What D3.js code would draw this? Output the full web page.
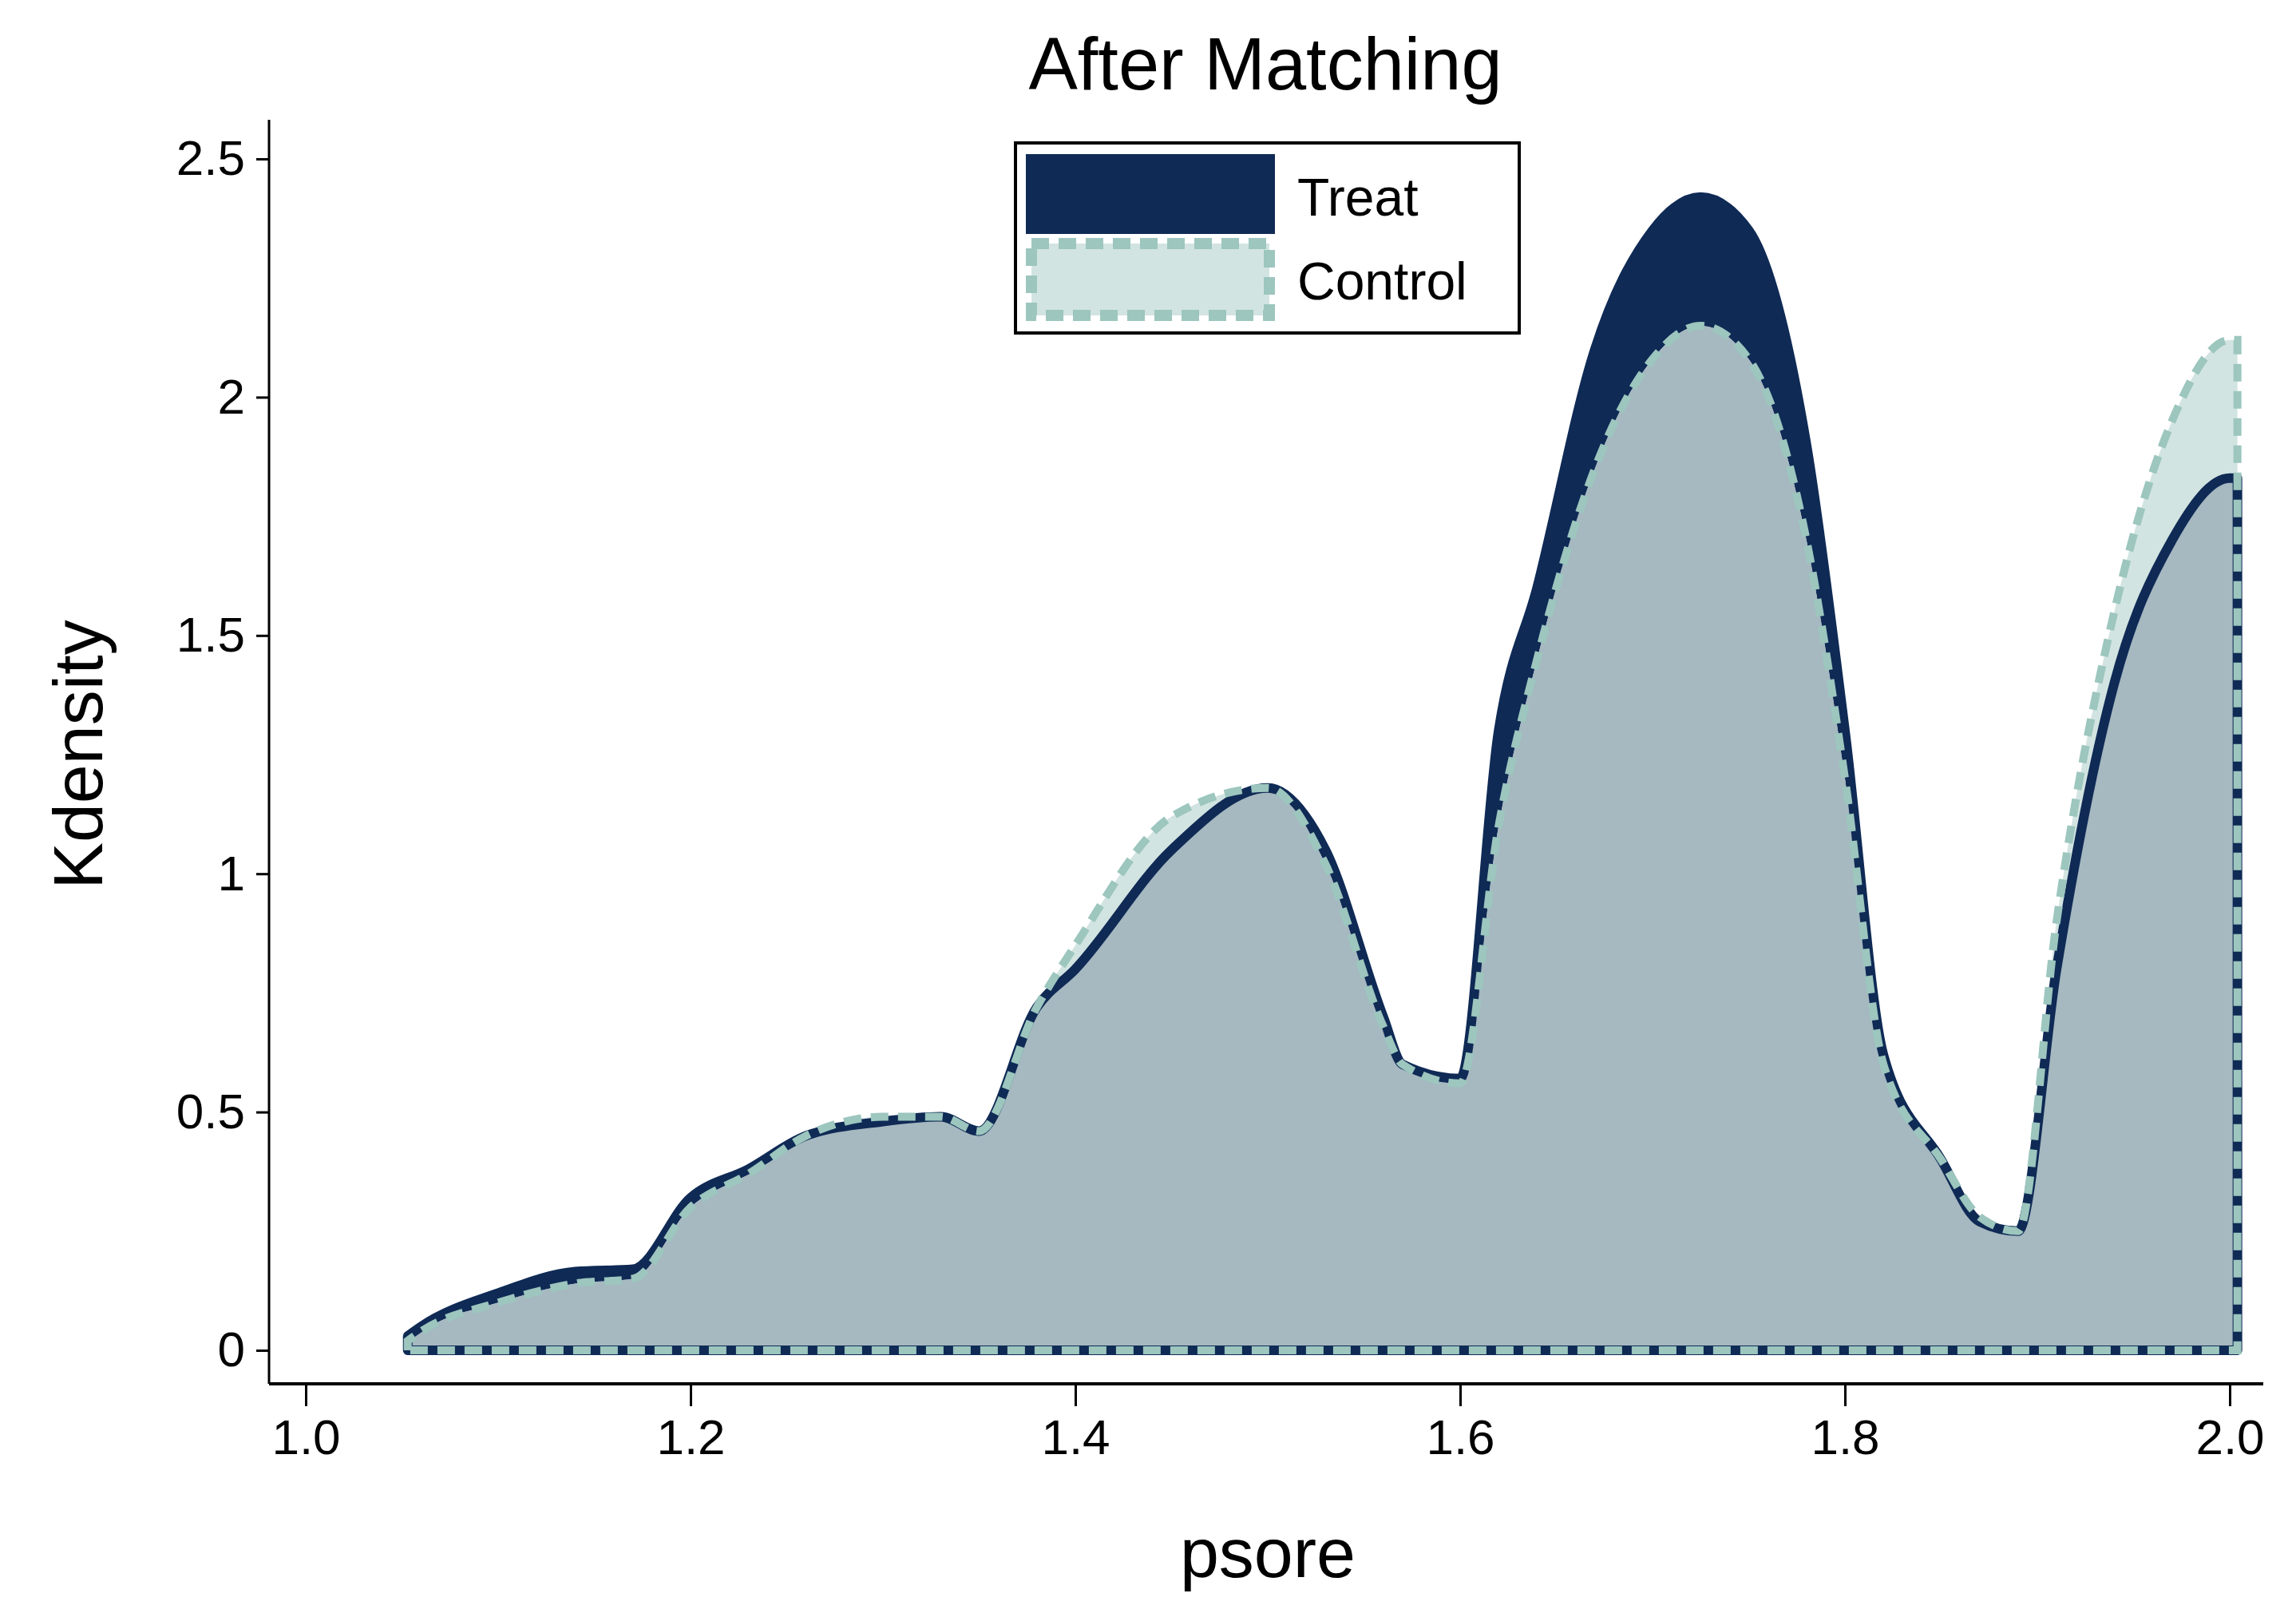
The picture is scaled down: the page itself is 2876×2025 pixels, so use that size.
<!DOCTYPE html>
<html><head><meta charset="utf-8">
<script src="https://cdn.jsdelivr.net/npm/d3@7"></script>
<style>body{margin:0;background:#fff}svg{display:block}</style>
</head><body><svg id="chart" width="2876" height="2025"></svg>
<script>
// Kdensity of psore, after matching
var treatX = [1.053,1.06,1.1,1.14,1.17,1.2,1.23,1.26,1.3,1.33,1.35,1.38,1.4,1.45,1.5,1.53,1.56,1.57,1.6,1.62,1.64,1.67,1.7,1.725,1.75,1.78,1.8,1.82,1.85,1.87,1.89,1.91,1.94,1.97,2.0,2.004];
var treatY = [0.03,0.05,0.12,0.165,0.17,0.32,0.38,0.45,0.48,0.49,0.46,0.72,0.8,1.05,1.18,1.05,0.7,0.6,0.57,1.3,1.6,2.1,2.35,2.42,2.35,1.9,1.3,0.62,0.4,0.27,0.25,0.8,1.4,1.7,1.83,1.83];
var controlY = [0.02,0.04,0.1,0.14,0.15,0.3,0.37,0.45,0.49,0.49,0.46,0.72,0.85,1.12,1.18,1.02,0.68,0.6,0.56,1.1,1.45,1.85,2.08,2.15,2.08,1.7,1.2,0.6,0.4,0.28,0.25,0.9,1.55,1.95,2.12,2.12];
var xTicks = [1.0,1.2,1.4,1.6,1.8,2.0];
var yTicks = [0,0.5,1,1.5,2,2.5];
var yTickLabels = ["0","0.5","1","1.5","2","2.5"];

var svg = d3.select("#chart");
var font = "Liberation Sans, Arial, sans-serif";
var x = d3.scaleLinear().domain([1.0,2.0]).range([383,2793]);
var y = d3.scaleLinear().domain([0,2.5]).range([1691,199]);

function pts(ys){ return treatX.map(function(d,i){return [d,ys[i]];}); }
var treat = pts(treatY), control = pts(controlY);
var both = pts(treatY.map(function(d,i){return Math.min(d,controlY[i]);}));

var area = d3.area().x(function(d){return x(d[0]);}).y0(y(0)).y1(function(d){return y(d[1]);}).curve(d3.curveMonotoneX);
function outline(p){
  var line = d3.line().x(function(d){return x(d[0]);}).y(function(d){return y(d[1]);}).curve(d3.curveMonotoneX);
  return "M" + x(p[0][0]) + "," + y(0) + "L" + line(p).slice(1) + "L" + x(p[p.length-1][0]) + "," + y(0) + "Z";
}

svg.append("path").attr("d", area(treat)).attr("fill","#0f2a55");
svg.append("path").attr("d", area(control)).attr("fill","#d2e4e1");
svg.append("path").attr("d", area(both)).attr("fill","#a6b8c0");
svg.append("path").attr("d", outline(treat)).attr("fill","none").attr("stroke","#0f2a55").attr("stroke-width",12).attr("stroke-linejoin","round");
svg.append("path").attr("d", outline(control)).attr("fill","none").attr("stroke","#9cc6be").attr("stroke-width",10).attr("stroke-dasharray","22,12");

// axes
var xAxis = svg.append("g").attr("transform","translate(0,1733)")
  .call(d3.axisBottom(x).tickValues(xTicks).tickFormat(d3.format(".1f")).tickSize(28).tickPadding(16));
xAxis.select(".domain").attr("d","M337,0H2835").attr("stroke-width",4);
var yAxis = svg.append("g").attr("transform","translate(337,0)")
  .call(d3.axisLeft(y).tickValues(yTicks).tickFormat(function(d,i){return yTickLabels[i];}).tickSize(16).tickPadding(14));
yAxis.select(".domain").attr("d","M0,150V1733").attr("stroke-width",3);
svg.selectAll(".tick line").attr("stroke-width",3);
svg.selectAll(".tick text").attr("font-family",font).attr("font-size",62).attr("fill","#000");

svg.append("text").attr("x",1588).attr("y",1975).attr("text-anchor","middle")
  .attr("font-family",font).attr("font-size",88).text("psore");
svg.append("text").attr("transform","translate(128,945) rotate(-90)").attr("text-anchor","middle")
  .attr("font-family",font).attr("font-size",88).text("Kdensity");
svg.append("text").attr("x",1585).attr("y",112).attr("text-anchor","middle")
  .attr("font-family",font).attr("font-size",92).text("After Matching");

// legend
var lg = svg.append("g");
lg.append("rect").attr("x",1272).attr("y",179).attr("width",631).attr("height",238).attr("fill","#fff").attr("stroke","#000").attr("stroke-width",4);
lg.append("rect").attr("x",1285).attr("y",193).attr("width",312).attr("height",100).attr("fill","#0f2a55");
lg.append("rect").attr("x",1292).attr("y",305).attr("width",298).attr("height",90).attr("fill","#d2e4e1").attr("stroke","#9cc6be").attr("stroke-width",14).attr("stroke-dasharray","22,12");
lg.append("text").attr("x",1625).attr("y",270).attr("font-family",font).attr("font-size",66).text("Treat");
lg.append("text").attr("x",1625).attr("y",375).attr("font-family",font).attr("font-size",66).text("Control");
</script></body></html>
